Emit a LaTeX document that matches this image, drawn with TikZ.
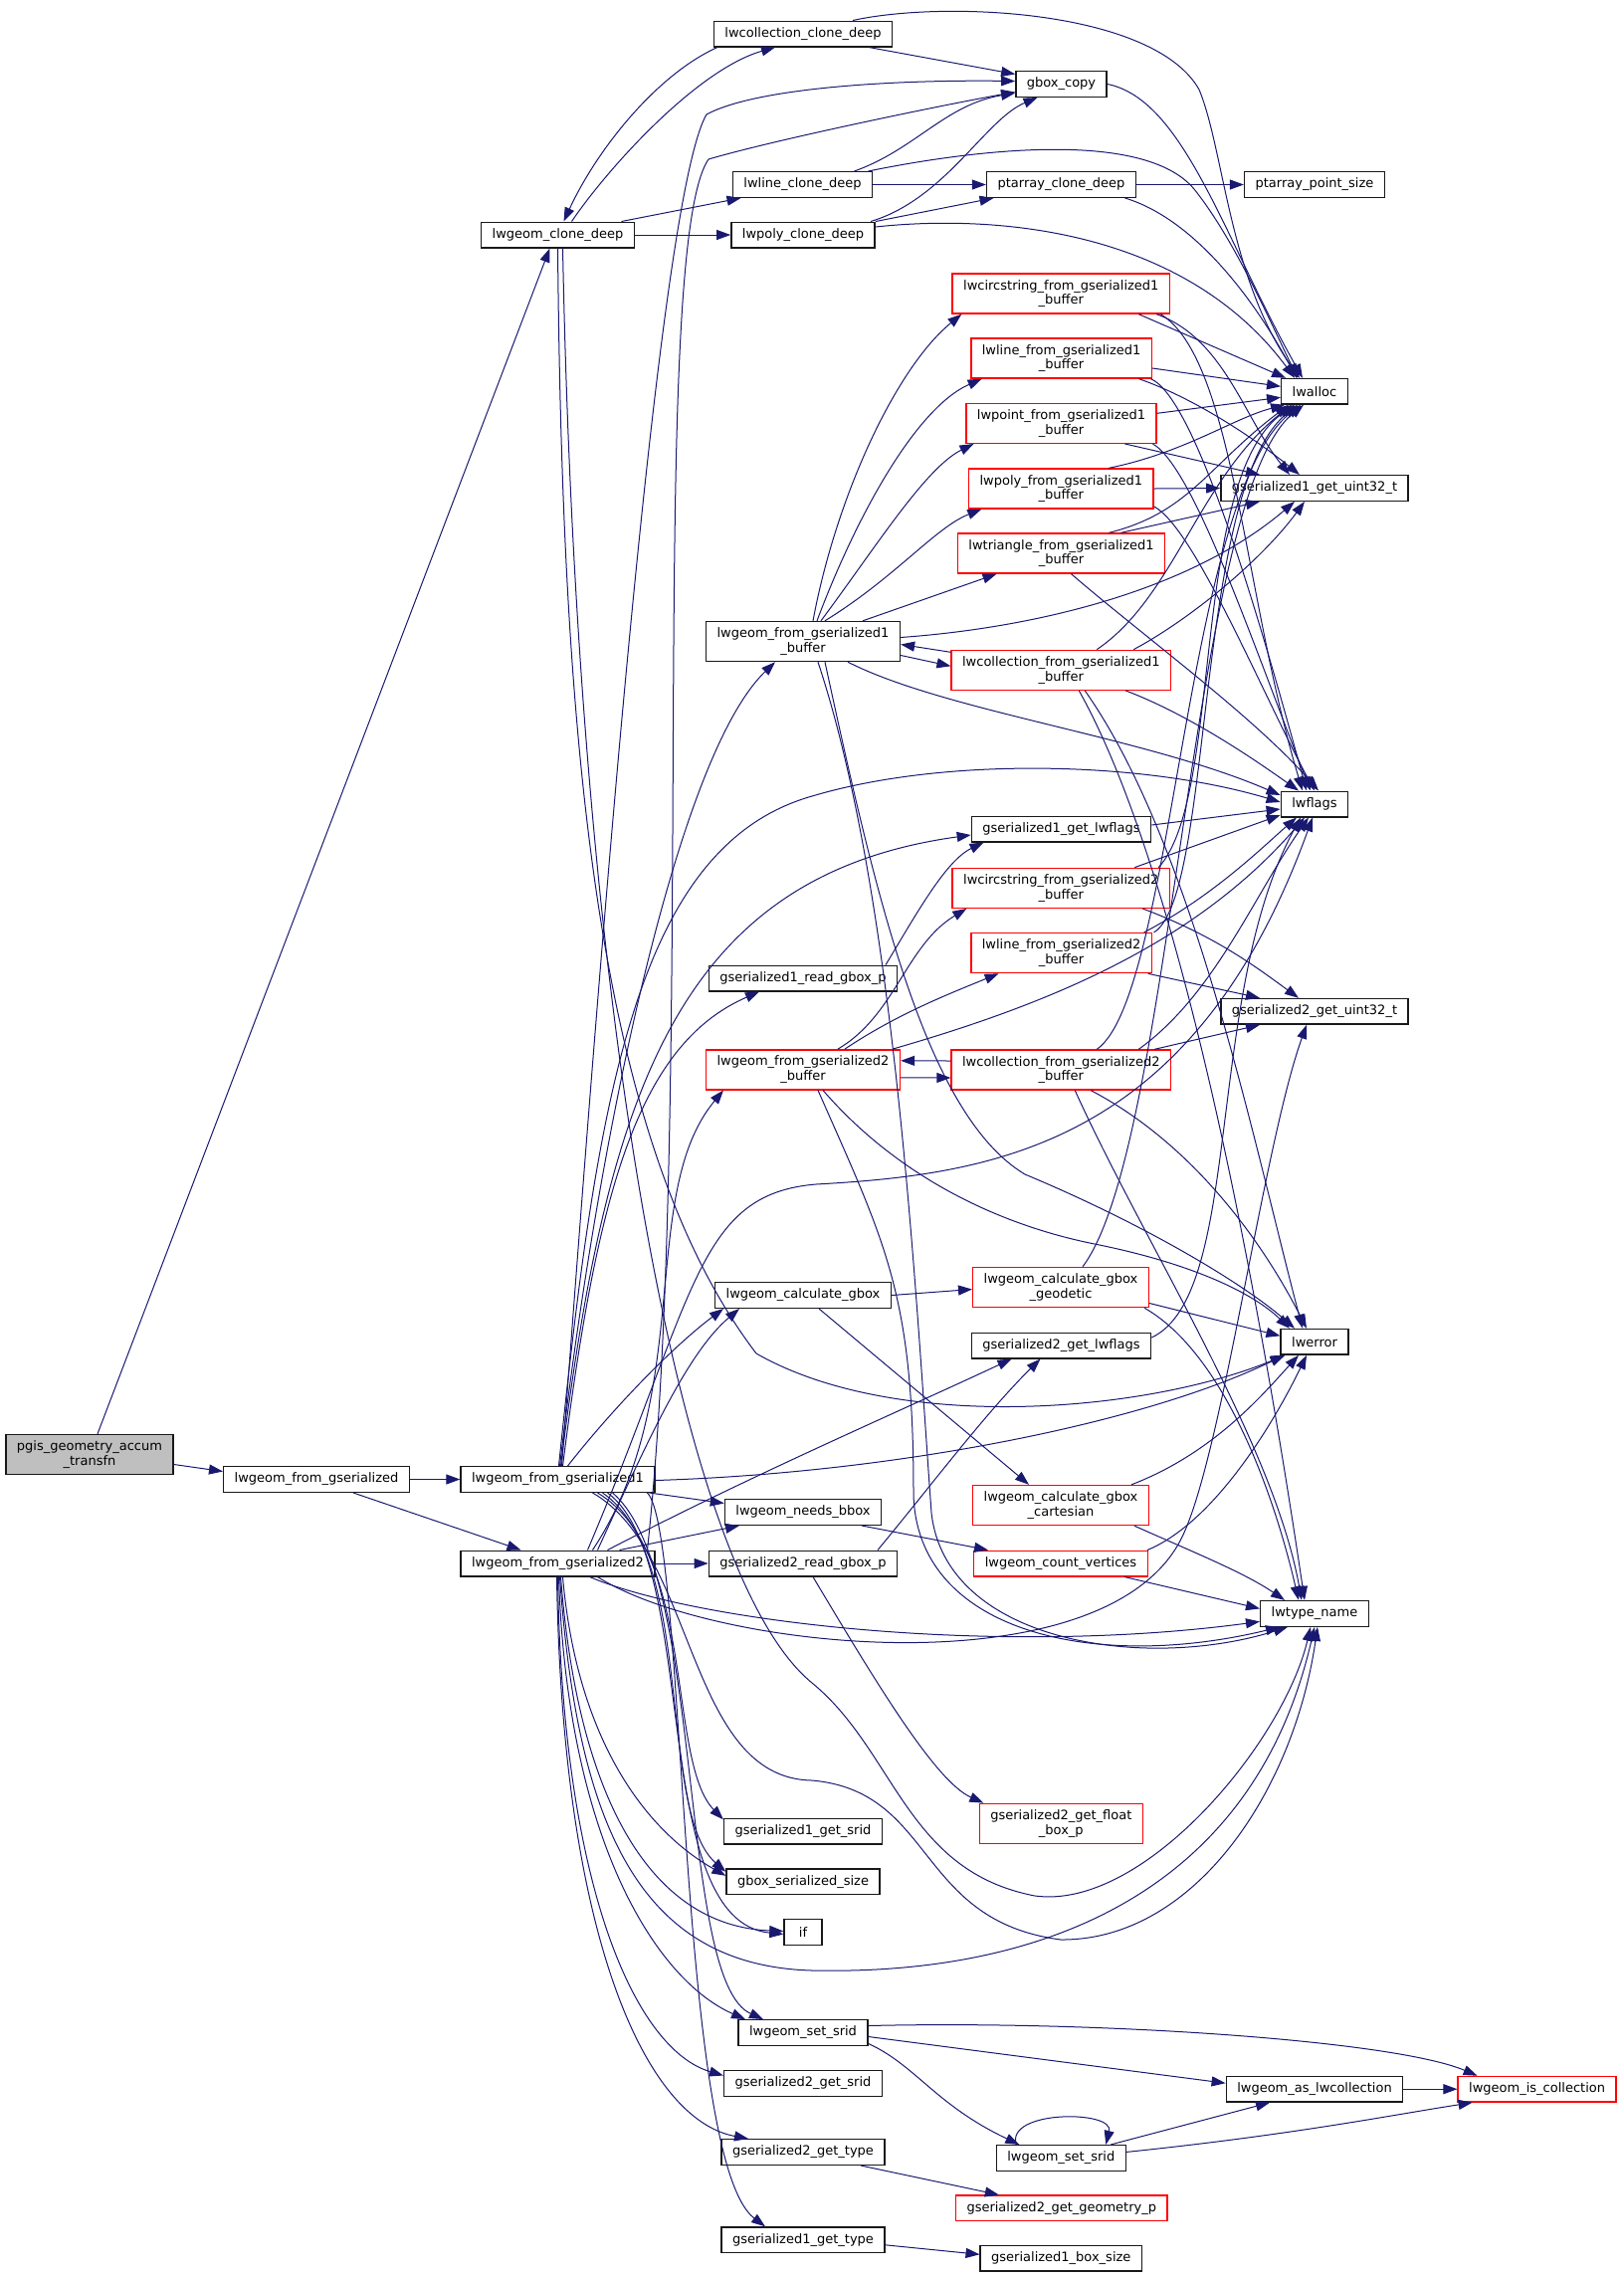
\documentclass[tikz,border=0pt]{standalone}
\usepackage{fontspec}
\setmainfont{DejaVu Sans}
\usetikzlibrary{arrows.meta,calc}
\definecolor{midnight}{RGB}{25,25,112}
\definecolor{nodegray}{RGB}{191,191,191}
\tikzset{
  fn/.style={draw=black!90, line width=0.7pt, fill=white, inner xsep=5.5pt, inner ysep=1pt,
    minimum height=12.8pt, minimum width=19pt, align=center, font=\fontsize{6.5}{7.4}\selectfont},
  fntwo/.style={fn, minimum height=20pt},
  fnred/.style={draw=red},
  fnroot/.style={fill=nodegray},
  call/.style={midnight, line width=0.5pt, -{Triangle[length=7pt,width=5pt]}},
}
\begin{document}
\begin{tikzpicture}[x=0.5pt, y=-0.5pt]
        \useasboundingbox (0,0) rectangle (1632,2288);

        % column 1 and 2
        \node[fntwo, fnroot] (pgis) at (90,1461.5) {pgis\_geometry\_accum\\\_transfn};
        \node[fn] (lwfgs) at (318,1486.5) {lwgeom\_from\_gserialized};

        % column 3
        \node[fn] (clonedeep) at (560.5,236) {lwgeom\_clone\_deep};
        \node[fn] (lwfgs1) at (560.5,1486.5) {lwgeom\_from\_gserialized1};
        \node[fn] (lwfgs2) at (560.5,1571) {lwgeom\_from\_gserialized2};

        % column 4
        \node[fn] (collclone) at (807,34) {lwcollection\_clone\_deep};
        \node[fn] (lineclone) at (806.5,185.5) {lwline\_clone\_deep};
        \node[fn] (polyclone) at (807,236) {lwpoly\_clone\_deep};
        \node[fntwo] (geom1buf) at (807,644.5) {lwgeom\_from\_gserialized1\\\_buffer};
        \node[fn] (g1readgbox) at (807,983) {gserialized1\_read\_gbox\_p};
        \node[fntwo, fnred] (geom2buf) at (807,1074.8) {lwgeom\_from\_gserialized2\\\_buffer};
        \node[fn] (calcgbox) at (807,1301.5) {lwgeom\_calculate\_gbox};
        \node[fn] (needsbbox) at (807,1519.5) {lwgeom\_needs\_bbox};
        \node[fn] (g2readgbox) at (807,1571) {gserialized2\_read\_gbox\_p};
        \node[fn] (g1srid) at (807,1840.3) {gserialized1\_get\_srid};
        \node[fn] (gboxsize) at (807,1890.8) {gbox\_serialized\_size};
        \node[fn] (ifnode) at (807,1941.5) {if};
        \node[fn] (setsrid) at (807,2042.5) {lwgeom\_set\_srid};
        \node[fn] (g2srid) at (807,2093.5) {gserialized2\_get\_srid};
        \node[fn] (g2type) at (807,2162.5) {gserialized2\_get\_type};
        \node[fn] (g1type) at (807,2250.8) {gserialized1\_get\_type};

        % column 5
        \node[fn] (gboxcopy) at (1066.5,84.5) {gbox\_copy};
        \node[fn] (ptclone) at (1066.5,185.5) {ptarray\_clone\_deep};
        \node[fntwo, fnred] (circ1buf) at (1066.3,295) {lwcircstring\_from\_gserialized1\\\_buffer};
        \node[fntwo, fnred] (line1buf) at (1066.6,360) {lwline\_from\_gserialized1\\\_buffer};
        \node[fntwo, fnred] (point1buf) at (1066.5,425.3) {lwpoint\_from\_gserialized1\\\_buffer};
        \node[fntwo, fnred] (poly1buf) at (1066.3,491) {lwpoly\_from\_gserialized1\\\_buffer};
        \node[fntwo, fnred] (tri1buf) at (1066.5,556) {lwtriangle\_from\_gserialized1\\\_buffer};
        \node[fntwo, fnred] (coll1buf) at (1066.3,673.3) {lwcollection\_from\_gserialized1\\\_buffer};
        \node[fn] (g1lwflags) at (1066.5,833) {gserialized1\_get\_lwflags};
        \node[fntwo, fnred] (circ2buf) at (1066.3,892.3) {lwcircstring\_from\_gserialized2\\\_buffer};
        \node[fntwo, fnred] (line2buf) at (1066.6,957.6) {lwline\_from\_gserialized2\\\_buffer};
        \node[fntwo, fnred] (coll2buf) at (1066.3,1075) {lwcollection\_from\_gserialized2\\\_buffer};
        \node[fntwo, fnred] (geodetic) at (1066,1293.5) {lwgeom\_calculate\_gbox\\\_geodetic};
        \node[fn] (g2lwflags) at (1066.5,1352) {gserialized2\_get\_lwflags};
        \node[fntwo, fnred] (cartesian) at (1066,1512.5) {lwgeom\_calculate\_gbox\\\_cartesian};
        \node[fn, fnred] (countvert) at (1066,1571) {lwgeom\_count\_vertices};
        \node[fntwo, fnred] (g2floatbox) at (1066.3,1832.3) {gserialized2\_get\_float\\\_box\_p};
        \node[fn] (setsridb) at (1066.3,2168.4) {lwgeom\_set\_srid};
        \node[fn, fnred] (g2geomp) at (1066.8,2218.9) {gserialized2\_get\_geometry\_p};
        \node[fn] (g1boxsize) at (1066.3,2269.3) {gserialized1\_box\_size};

        % column 6 and 7
        \node[fn] (ptsize) at (1321,185.5) {ptarray\_point\_size};
        \node[fn] (lwalloc) at (1321,393.3) {lwalloc};
        \node[fn] (g1uint) at (1321,490.5) {gserialized1\_get\_uint32\_t};
        \node[fn] (lwflags) at (1321,808) {lwflags};
        \node[fn] (g2uint) at (1321,1016.3) {gserialized2\_get\_uint32\_t};
        \node[fn] (lwerror) at (1321,1348.3) {lwerror};
        \node[fn] (typename) at (1321,1621.4) {lwtype\_name};
        \node[fn] (aslwcoll) at (1321,2099.2) {lwgeom\_as\_lwcollection};
        \node[fn, fnred] (iscoll) at (1544.6,2099.2) {lwgeom\_is\_collection};

        % root calls
        \draw[call] ($(pgis.east)+(0,10)$) -- ($(lwfgs.west)+(0,-8)$);
        \draw[call] ($(pgis.north)+(8,0)$) -- ($(clonedeep.south)+(-8,0)$);
        \draw[call] (lwfgs.east) -- (lwfgs1.west);
        \draw[call] ($(lwfgs.south)+(37,0)$) -- ($(lwfgs2.north)+(-37,0)$);

        % clone calls
        \draw[call] ($(clonedeep.north)+(14,0)$) .. controls (610,170) and (700,70) .. ($(collclone.south)+(-28,0)$);
        \draw[call] ($(collclone.south)+(-86,0)$) .. controls (660,75) and (600,150) .. ($(clonedeep.north)+(6,0)$);
        \draw[call] ($(clonedeep.north)+(64,0)$) -- ($(lineclone.south)+(-62,0)$);
        \draw[call] (clonedeep.east) -- (polyclone.west);
        \draw[call] (clonedeep.south) .. controls (565,750) and (600,1150) .. (760,1360) .. controls (900,1440) and (1150,1420) .. ($(lwerror.south west)+(5,0)$);
        \draw[call] ($(clonedeep.south)+(5,0)$) .. controls (580,1000) and (680,1580) .. (816,1691) .. controls (900,1760) and (910,1880) .. (1040,1905) .. controls (1150,1920) and (1290,1750) .. ($(typename.south)+(-4,0)$);
        \draw[call] ($(collclone.south)+(66,0)$) -- ($(gboxcopy.west)+(0,-10)$);
        \draw[call] ($(collclone.north)+(50,0)$) .. controls (950,0) and (1160,10) .. (1205,90) .. controls (1230,150) and (1235,280) .. ($(lwalloc.north)+(-15,0)$);
        \draw[call] (gboxcopy.east) .. controls (1190,100) and (1230,240) .. ($(lwalloc.north)+(-12,0)$);
        \draw[call] ($(lineclone.north)+(52,0)$) .. controls (920,150) and (950,105) .. ($(gboxcopy.west)+(0,9)$);
        \draw[call] (lineclone.east) -- (ptclone.west);
        \draw[call] ($(lineclone.north)+(66,0)$) .. controls (980,150) and (1150,130) .. (1200,190) .. controls (1240,240) and (1275,320) .. ($(lwalloc.north)+(-17,0)$);
        \draw[call] ($(polyclone.north)+(68,0)$) .. controls (950,200) and (990,120) .. ($(gboxcopy.south)+(-24,0)$);
        \draw[call] ($(polyclone.north)+(73,0)$) -- ($(ptclone.south)+(-68,0)$);
        \draw[call] ($(polyclone.east)+(0,-8)$) .. controls (1000,215) and (1190,230) .. ($(lwalloc.north)+(-20,0)$);
        \draw[call] (ptclone.east) -- (ptsize.west);
        \draw[call] ($(ptclone.south)+(64,0)$) .. controls (1200,220) and (1260,300) .. ($(lwalloc.north)+(-18,0)$);

        % gserialized1 buffer readers
        \draw[call] ($(circ1buf.south)+(78,0)$) -- ($(lwalloc.north west)+(5,0)$);
        \draw[call] ($(circ1buf.south)+(96,0)$) .. controls (1230,340) and (1250,420) .. ($(g1uint.north)+(-25,0)$);
        \draw[call] ($(circ1buf.south)+(100,0)$) .. controls (1240,360) and (1250,600) .. ($(lwflags.north)+(-12,0)$);
        \draw[call] ($(line1buf.east)+(0,10)$) -- ($(lwalloc.west)+(0,-5)$);
        \draw[call] ($(line1buf.south)+(78,0)$) .. controls (1200,400) and (1260,440) .. ($(g1uint.north)+(-15,0)$);
        \draw[call] ($(line1buf.south)+(90,0)$) .. controls (1200,400) and (1260,600) .. ($(lwflags.north)+(-8,0)$);
        \draw[call] ($(point1buf.east)+(0,-10)$) -- ($(lwalloc.west)+(0,6)$);
        \draw[call] ($(point1buf.south)+(64,0)$) -- ($(g1uint.north)+(-55,0)$);
        \draw[call] ($(point1buf.south)+(92,0)$) .. controls (1200,470) and (1260,650) .. ($(lwflags.north)+(-4,0)$);
        \draw[call] ($(poly1buf.north)+(48,0)$) .. controls (1190,455) and (1240,420) .. ($(lwalloc.south west)+(4,0)$);
        \draw[call] (poly1buf.east) -- (g1uint.west);
        \draw[call] ($(poly1buf.east)+(0,18)$) .. controls (1200,530) and (1270,700) .. (lwflags.north);
        \draw[call] ($(tri1buf.north)+(48,0)$) .. controls (1195,515) and (1212,470) .. ($(lwalloc.south west)+(8,0)$);
        \draw[call] ($(tri1buf.north)+(60,0)$) -- ($(g1uint.south)+(-55,0)$);
        \draw[call] ($(tri1buf.south)+(10,0)$) .. controls (1150,640) and (1260,720) .. ($(lwflags.north)+(4,0)$);

        \draw[call] ($(geom1buf.north)+(10,0)$) .. controls (840,500) and (900,370) .. ($(circ1buf.south)+(-100,0)$);
        \draw[call] ($(geom1buf.north)+(14,0)$) .. controls (860,520) and (920,410) .. ($(line1buf.south)+(-80,0)$);
        \draw[call] ($(geom1buf.north)+(18,0)$) .. controls (880,550) and (930,470) .. ($(point1buf.south)+(-88,0)$);
        \draw[call] ($(geom1buf.north)+(22,0)$) .. controls (900,580) and (940,530) .. ($(poly1buf.south)+(-80,0)$);
        \draw[call] ($(geom1buf.north)+(60,0)$) -- ($(tri1buf.south)+(-65,0)$);
        \draw[call] ($(geom1buf.east)+(0,14)$) -- ($(coll1buf.west)+(0,-4)$);
        \draw[call] ($(coll1buf.west)+(0,-18)$) -- ($(geom1buf.east)+(0,3)$);
        \draw[call] ($(geom1buf.east)+(0,-4)$) .. controls (1050,630) and (1200,590) .. ($(g1uint.south)+(-20,0)$);
        \draw[call] ($(geom1buf.south)+(45,0)$) .. controls (950,715) and (1150,740) .. ($(lwflags.west)+(0,-9)$);
        \draw[call] ($(geom1buf.south)+(22,0)$) .. controls (880,900) and (930,1120) .. (1030,1180) .. controls (1150,1230) and (1250,1290) .. ($(lwerror.north)+(-20,0)$);
        \draw[call] ($(geom1buf.south)+(15,0)$) .. controls (900,900) and (920,1300) .. (936,1520) .. controls (950,1650) and (1150,1680) .. ($(typename.south west)+(28,0)$);

        \draw[call] ($(coll1buf.north)+(36,0)$) .. controls (1180,600) and (1205,480) .. ($(lwalloc.south west)+(11,0)$);
        \draw[call] ($(coll1buf.north)+(73,0)$) .. controls (1200,620) and (1270,560) .. ($(g1uint.south)+(-10,0)$);
        \draw[call] ($(coll1buf.south)+(65,0)$) .. controls (1200,720) and (1270,770) .. ($(lwflags.north)+(-16,0)$);
        \draw[call] ($(coll1buf.south)+(24,0)$) .. controls (1200,850) and (1260,1150) .. ($(lwerror.north)+(-12,0)$);
        \draw[call] ($(coll1buf.south)+(18,0)$) .. controls (1200,900) and (1280,1400) .. ($(typename.north)+(-10,0)$);

        \draw[call] ($(g1lwflags.east)+(0,-4)$) -- ($(lwflags.west)+(0,5)$);
        \draw[call] ($(g1readgbox.north)+(83,0)$) .. controls (920,920) and (950,865) .. ($(g1lwflags.south)+(-78,0)$);

        % gserialized2 buffer readers
        \draw[call] ($(circ2buf.north)+(74,0)$) -- ($(lwflags.west)+(0,11)$);
        \draw[call] ($(circ2buf.north)+(98,0)$) .. controls (1230,800) and (1195,480) .. ($(lwalloc.south west)+(14,0)$);
        \draw[call] ($(circ2buf.south)+(82,0)$) .. controls (1220,940) and (1260,970) .. ($(g2uint.north)+(-16,0)$);
        \draw[call] ($(line2buf.north)+(83,0)$) .. controls (1220,900) and (1270,850) .. ($(lwflags.south)+(-18,0)$);
        \draw[call] ($(line2buf.north)+(93,0)$) .. controls (1220,900) and (1200,490) .. ($(lwalloc.south west)+(17,0)$);
        \draw[call] ($(line2buf.south)+(87,0)$) -- ($(g2uint.north)+(-55,0)$);
        \draw[call] ($(geom2buf.north)+(35,0)$) .. controls (900,1020) and (910,950) .. ($(circ2buf.south)+(-95,0)$);
        \draw[call] ($(geom2buf.north)+(42,0)$) .. controls (900,1020) and (950,1000) .. ($(line2buf.south)+(-63,0)$);
        \draw[call] ($(geom2buf.east)+(0,8)$) -- ($(coll2buf.west)+(0,8)$);
        \draw[call] ($(coll2buf.west)+(0,-9)$) -- ($(geom2buf.east)+(0,-9)$);
        \draw[call] ($(geom2buf.north)+(90,0)$) .. controls (1050,1010) and (1200,950) .. ($(lwflags.south)+(-10,0)$);
        \draw[call] ($(geom2buf.south)+(20,0)$) .. controls (900,1180) and (1000,1230) .. (1100,1250) .. controls (1200,1270) and (1260,1300) .. ($(lwerror.north)+(-25,0)$);
        \draw[call] ($(geom2buf.south)+(15,0)$) .. controls (890,1250) and (918,1300) .. (918,1500) .. controls (920,1640) and (1100,1680) .. ($(typename.south west)+(20,0)$);
        \draw[call] ($(coll2buf.north)+(36,0)$) .. controls (1180,1000) and (1190,500) .. ($(lwalloc.south west)+(20,0)$);
        \draw[call] ($(coll2buf.north)+(78,0)$) .. controls (1220,1000) and (1260,900) .. ($(lwflags.south)+(-6,0)$);
        \draw[call] ($(coll2buf.north)+(94,0)$) -- ($(g2uint.south)+(-55,0)$);
        \draw[call] ($(coll2buf.south)+(30,0)$) .. controls (1200,1150) and (1270,1250) .. ($(lwerror.north)+(-8,0)$);
        \draw[call] ($(coll2buf.south)+(14,0)$) .. controls (1150,1250) and (1280,1450) .. ($(typename.north)+(-13,0)$);

        % bounding box helpers
        \draw[call] (calcgbox.east) -- ($(geodetic.west)+(0,2)$);
        \draw[call] ($(calcgbox.south)+(16,0)$) -- ($(cartesian.north)+(-32,0)$);
        \draw[call] ($(geodetic.north)+(22,0)$) .. controls (1180,1150) and (1195,500) .. ($(lwalloc.south west)+(23,0)$);
        \draw[call] ($(geodetic.east)+(0,16)$) -- ($(lwerror.west)+(0,-6)$);
        \draw[call] ($(geodetic.south)+(84,0)$) .. controls (1230,1360) and (1280,1500) .. ($(typename.north)+(-16,0)$);
        \draw[call] ($(g2lwflags.east)+(0,-8)$) .. controls (1250,1300) and (1210,1000) .. ($(lwflags.south)+(-14,0)$);
        \draw[call] ($(cartesian.north)+(71,0)$) .. controls (1220,1460) and (1270,1400) .. ($(lwerror.south)+(-16,0)$);
        \draw[call] ($(cartesian.south)+(74,0)$) .. controls (1200,1560) and (1250,1580) .. ($(typename.north)+(-30,0)$);
        \draw[call] ($(countvert.north)+(87,0)$) .. controls (1220,1530) and (1280,1430) .. ($(lwerror.south)+(-8,0)$);
        \draw[call] ($(countvert.south)+(64,0)$) -- ($(typename.west)+(0,-5)$);
        \draw[call] ($(needsbbox.south)+(59,0)$) -- ($(countvert.north)+(-73,0)$);
        \draw[call] ($(g2readgbox.north)+(75,0)$) .. controls (930,1500) and (990,1420) .. ($(g2lwflags.south)+(-21,0)$);
        \draw[call] ($(g2readgbox.south)+(10,0)$) .. controls (880,1690) and (940,1790) .. ($(g2floatbox.north)+(-78,0)$);

        % lwgeom_from_gserialized1
        \draw[call] ($(lwfgs1.north)+(4,0)$) .. controls (600,1000) and (660,200) .. (710,115) .. controls (760,88) and (900,80) .. ($(gboxcopy.west)+(0,-3)$);
        \draw[call] ($(lwfgs1.north)+(2,0)$) .. controls (600,1150) and (680,760) .. ($(geom1buf.south)+(-28,0)$);
        \draw[call] ($(lwfgs1.north)+(1,0)$) .. controls (600,1100) and (640,850) .. (816,800) .. controls (950,760) and (1150,765) .. ($(lwflags.west)+(0,-2)$);
        \draw[call] ($(lwfgs1.north)+(3,0)$) .. controls (610,1100) and (680,880) .. ($(g1lwflags.west)+(0,6)$);
        \draw[call] ($(lwfgs1.north)+(5,0)$) .. controls (600,1200) and (640,1050) .. ($(g1readgbox.south)+(-44,0)$);
        \draw[call] ($(lwfgs1.east)+(0,1)$) .. controls (900,1480) and (1150,1430) .. ($(lwerror.south west)+(4,0)$);
        \draw[call] ($(lwfgs1.south)+(92,0)$) -- ($(needsbbox.west)+(0,-9)$);
        \draw[call] ($(lwfgs1.north)+(10,0)$) .. controls (620,1410) and (680,1350) .. ($(calcgbox.south)+(-80,0)$);
        \draw[call] ($(lwfgs1.south)+(40,0)$) .. controls (700,1560) and (670,1770) .. ($(g1srid.west)+(0,-12)$);
        \draw[call] ($(lwfgs1.south)+(45,0)$) .. controls (700,1565) and (660,1820) .. ($(gboxsize.west)+(0,-10)$);
        \draw[call] ($(lwfgs1.south)+(50,0)$) .. controls (705,1570) and (650,1930) .. ($(ifnode.west)+(0,2)$);
        \draw[call] ($(lwfgs1.south)+(55,0)$) .. controls (710,1580) and (680,1990) .. ($(setsrid.north)+(-40,0)$);
        \draw[call] ($(lwfgs1.south)+(90,0)$) .. controls (690,1540) and (680,2170) .. ($(g1type.north)+(-38,0)$);
        \draw[call] ($(lwfgs1.south)+(35,0)$) .. controls (700,1560) and (690,1787) .. (816,1789) .. controls (940,1800) and (920,1930) .. (1066,1949) .. controls (1200,1950) and (1300,1800) .. ($(typename.south)+(3,0)$);

        % lwgeom_from_gserialized2
        \draw[call] ($(lwfgs2.north)+(90,0)$) .. controls (700,1100) and (650,250) .. (712,160) .. controls (780,140) and (950,105) .. ($(gboxcopy.west)+(0,8)$);
        \draw[call] ($(lwfgs2.north)+(35,0)$) .. controls (700,1400) and (640,1200) .. ($(geom2buf.south)+(-80,0)$);
        \draw[call] (lwfgs2.east) -- (g2readgbox.west);
        \draw[call] ($(lwfgs2.north)+(62,0)$) -- ($(needsbbox.south)+(-64,0)$);
        \draw[call] ($(lwfgs2.north)+(40,0)$) .. controls (650,1450) and (690,1360) .. ($(calcgbox.south)+(-64,0)$);
        \draw[call] ($(lwfgs2.north)+(50,0)$) .. controls (760,1480) and (900,1420) .. ($(g2lwflags.south)+(-50,0)$);
        \draw[call] ($(lwfgs2.north)+(30,0)$) .. controls (700,1300) and (700,1200) .. (820,1190) .. controls (1000,1180) and (1200,1150) .. ($(lwflags.south)+(-2,0)$);
        \draw[call] ($(lwfgs2.south)+(32,0)$) .. controls (700,1630) and (1000,1665) .. ($(typename.west)+(0,8)$);
        \draw[call] ($(lwfgs2.south)+(40,0)$) .. controls (720,1660) and (1120,1700) .. (1190,1540) .. controls (1230,1450) and (1270,1150) .. ($(g2uint.south)+(-8,0)$);
        \draw[call] ($(lwfgs2.south)+(5,0)$) .. controls (580,1750) and (650,1840) .. ($(gboxsize.west)+(0,-6)$);
        \draw[call] ($(lwfgs2.south)+(3,0)$) .. controls (580,1800) and (650,1935) .. ($(ifnode.west)+(0,-1)$);
        \draw[call] ($(lwfgs2.south)+(1,0)$) .. controls (570,1850) and (660,1990) .. ($(setsrid.north)+(-58,0)$);
        \draw[call] (lwfgs2.south) .. controls (565,1900) and (640,2060) .. ($(g2srid.west)+(0,-8)$);
        \draw[call] ($(lwfgs2.south)+(-1,0)$) .. controls (565,1950) and (650,2130) .. ($(g2type.north)+(-55,0)$);
        \draw[call] ($(lwfgs2.south)+(2,0)$) .. controls (580,1830) and (640,1975) .. (816,1980) .. controls (1050,1985) and (1260,1900) .. (typename.south);

        % srid and type helpers
        \draw[call] ($(setsrid.east)+(0,-7)$) .. controls (1100,2030) and (1400,2050) .. ($(iscoll.north)+(-60,0)$);
        \draw[call] ($(setsrid.east)+(0,4)$) -- ($(aslwcoll.west)+(0,-6)$);
        \draw[call] ($(setsrid.east)+(0,11)$) .. controls (920,2075) and (940,2115) .. ($(setsridb.north)+(-42,0)$);
        \draw[call] ($(setsridb.north)+(-45,0)$) .. controls (1010,2120) and (1120,2120) .. ($(setsridb.north)+(45,0)$);
        \draw[call] ($(setsridb.north)+(50,0)$) -- ($(aslwcoll.south)+(-45,0)$);
        \draw[call] ($(setsridb.east)+(0,-6)$) .. controls (1300,2145) and (1400,2125) .. ($(iscoll.south)+(-65,0)$);
        \draw[call] (aslwcoll.east) -- (iscoll.west);
        \draw[call] ($(g2type.south)+(58,0)$) -- ($(g2geomp.north)+(-63,0)$);
        \draw[call] ($(g1type.east)+(0,5)$) -- ($(g1boxsize.west)+(0,-4)$);
\end{tikzpicture}
\end{document}
